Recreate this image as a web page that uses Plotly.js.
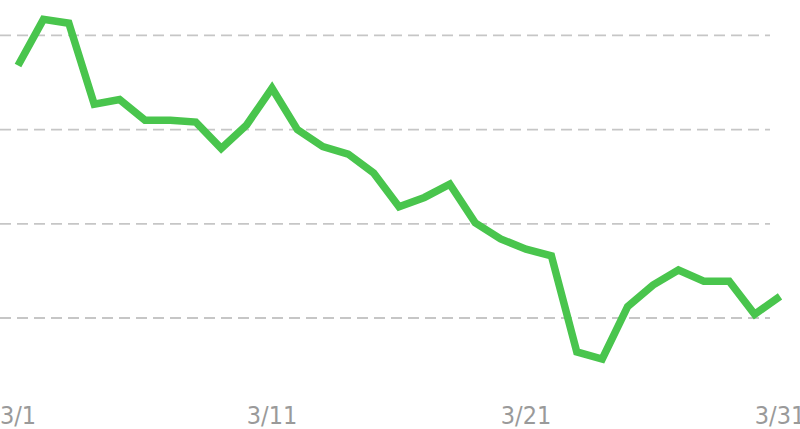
<!DOCTYPE html>
<html>
<head>
<meta charset="utf-8">
<script src="https://cdn.plot.ly/plotly-3.0.1.min.js"></script>
<style>html,body{margin:0;padding:0;background:#fff;overflow:hidden}#chart{width:800px;height:429px}</style>
</head>
<body>
<div id="chart"></div>
<script>
const dates = ['3/1','3/2','3/3','3/4','3/5','3/6','3/7','3/8','3/9','3/10','3/11','3/12','3/13','3/14','3/15','3/16','3/17','3/18','3/19','3/20','3/21','3/22','3/23','3/24','3/25','3/26','3/27','3/28','3/29','3/30','3/31'];
const values = [36.8,41.7,41.3,32.7,33.2,31.0,31.0,30.8,28.0,30.5,34.4,30.0,28.2,27.4,25.4,21.8,22.8,24.2,20.1,18.4,17.3,16.6,6.4,5.65,11.2,13.5,15.1,13.9,13.9,10.4,12.3];
const tickLabels = ['3/1','3/11','3/21','3/31'];
const gridValues = [10,20,30,40];

const shapes = gridValues.map(v => ({
  type:'line', xref:'paper', yref:'y', x0:0, x1:0.9625, y0:v, y1:v,
  line:{color:'#c6c6c6', width:1.8, dash:'11px,6px'}, layer:'below'
}));

Plotly.newPlot('chart', [{
  x: dates, y: values, type:'scatter', mode:'lines',
  line:{color:'#49c54d', width:7.5, shape:'linear'},
  hoverinfo:'skip'
}], {
  width:800, height:429,
  margin:{l:0, r:0, t:0, b:49, pad:0},
  paper_bgcolor:'#fff', plot_bgcolor:'#fff',
  showlegend:false,
  xaxis:{type:'category', range:[-0.709,30.787], tickvals:tickLabels, ticktext:tickLabels,
    showgrid:false, zeroline:false, showline:false, ticks:'', ticklabelstandoff:18,
    tickfont:{family:'"DejaVu Sans Condensed","Liberation Sans Narrow",sans-serif', size:25, color:'#9a9a9a'}},
  yaxis:{range:[3.42,43.76], showgrid:false, zeroline:false, showline:false, showticklabels:false, ticks:''},
  shapes: shapes
}, {staticPlot:true, displayModeBar:false});
</script>
</body>
</html>
